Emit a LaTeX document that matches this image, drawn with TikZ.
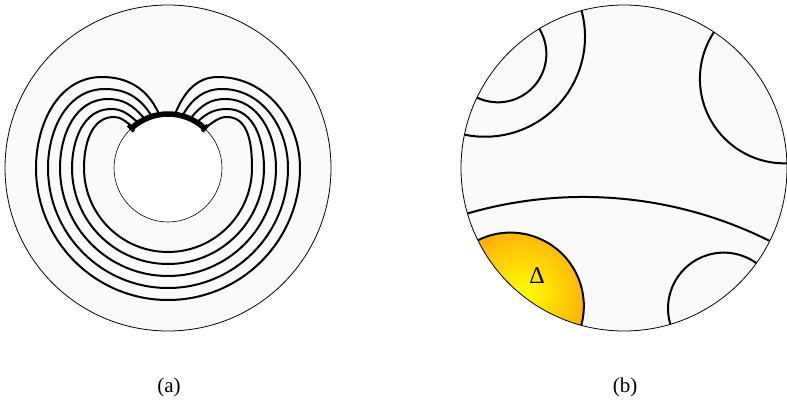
\documentclass[tikz,border=0pt]{standalone}
\usepackage{fontspec}
\setmainfont{Liberation Serif}
\definecolor{discfill}{HTML}{FAFAFA}
\definecolor{dorange}{RGB}{255,110,20}
\newcommand\geoarc[2]{%
  \pgfmathsetmacro\geoM{(#1+#2)/2}%
  \pgfmathsetmacro\geoD{(#2-#1)/2}%
  \pgfmathsetmacro\geoR{163*tan(\geoD)}%
  \pgfmathsetmacro\geoS{\geoM-90-\geoD}%
  \pgfmathsetmacro\geoE{\geoM-270+\geoD}%
}
\begin{document}
\begin{tikzpicture}[x=1pt,y=1pt,
  curve/.style={line width=2pt},
  geo/.style={line width=2pt},
  disc/.style={fill=discfill, draw=black, line width=0.8pt},
  lab/.style={font=\fontsize{21}{25}\selectfont, inner sep=0pt}]
\useasboundingbox (0,0) rectangle (787,416);
\coordinate (Oa) at (168,248);
\coordinate (Ob) at (624,248);
% ---- panel (a)
\path[disc] (Oa) circle (163);
\path[fill=white, draw=black, line width=0.6pt] (Oa) circle (54);
\foreach \r/\aL/\aR/\tl/\tr/\ty in {132/100/82/102/218/339, 120/108/74/105/222/327, 108/116/65/108/225/317, 96/124/57/111/227/307, 84/131/47/114/227/299}{
  \pgfmathsetmacro\oL{\aL+15}
  \pgfmathsetmacro\iR{\aR-15}
  \draw[curve] ([shift={(\aL:56.5)}]Oa) to[out=\oL,in=0] (\tl,\ty) to[out=180,in=90] ([xshift=-\r pt]Oa)
     arc[start angle=180,end angle=360,radius=\r] to[out=90,in=0] (\tr,\ty) to[out=180,in=\iR] ([shift={(\aR:56.5)}]Oa);
}
\draw[line width=5.5pt] ([shift={(47:54)}]Oa) arc[start angle=47,end angle=133,radius=54];
\foreach \a in {47,133} \draw[line width=3.5pt] ([shift={(\a:50)}]Oa) -- ([shift={(\a:58.5)}]Oa);
% ---- panel (b)
\path[fill=discfill] (Ob) circle (163);
\begin{scope}
  \geoarc{206.3}{254.8}
  \clip ([shift={(206.3:163)}]Ob) arc[start angle=\geoS,end angle=\geoE,radius=\geoR]
     arc[start angle=254.8,end angle=206.3,radius=163] -- cycle;
  \shade[inner color=yellow, outer color=dorange] (523,123) circle (120);
\end{scope}
\foreach \a/\b in {121.3/154.4, 105.1/168.2, 1.65/56.5, 196.2/333.4, 286.5/324.3, 206.3/254.8}{
  \geoarc{\a}{\b}
  \draw[geo] ([shift={(\a:163)}]Ob) arc[start angle=\geoS,end angle=\geoE,radius=\geoR];
}
\draw[line width=0.8pt] (Ob) circle (163);
\node[font=\fontsize{24}{28}\selectfont, inner sep=0pt] (delta) at (537,140) {Δ};
% ---- labels
\node[lab] (la) at (169,29) {(a)};
\node[lab] (lb) at (625,29) {(b)};
\end{tikzpicture}
\end{document}
